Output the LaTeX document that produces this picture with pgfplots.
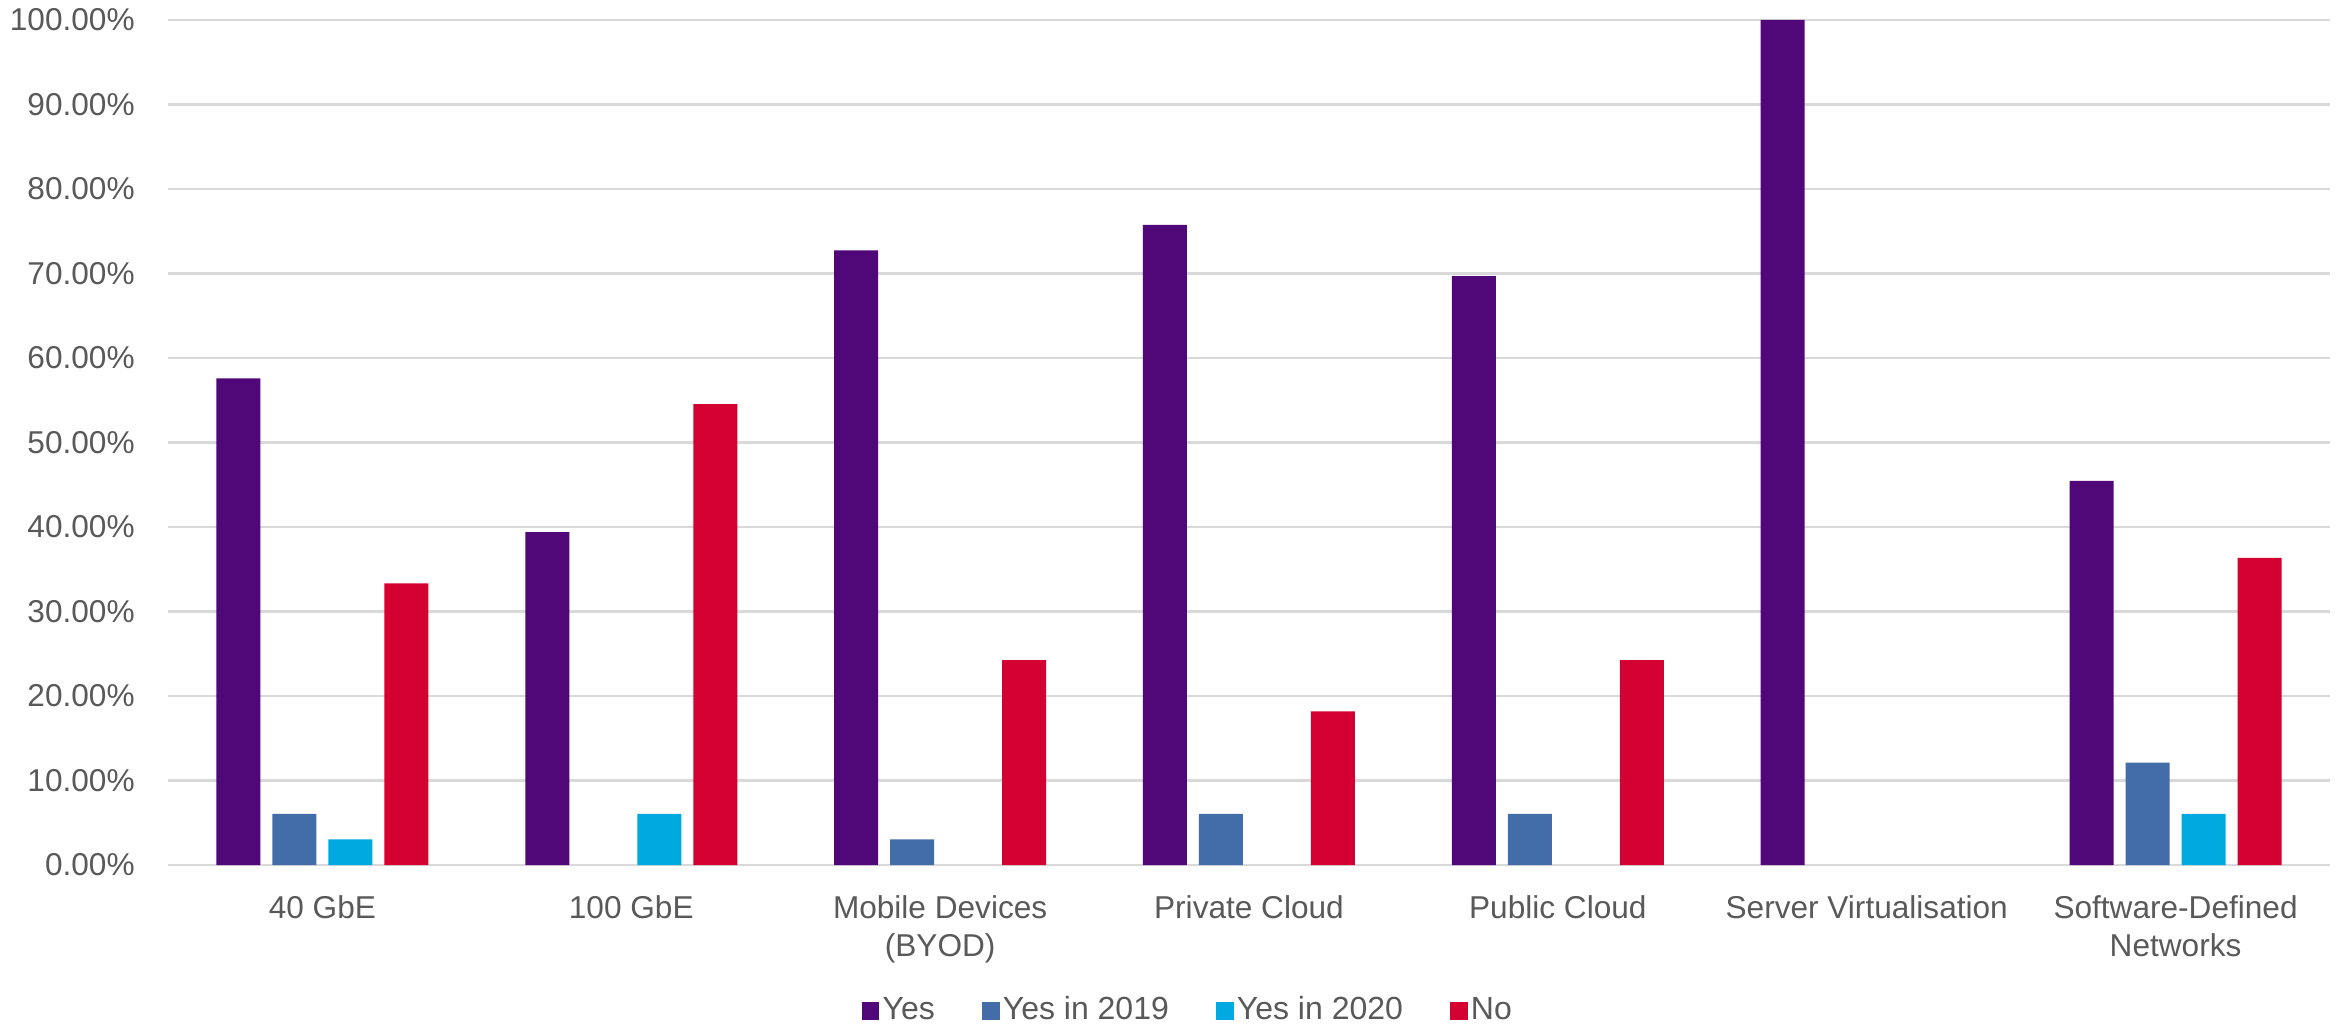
\documentclass[border=0pt]{standalone}
\usepackage{pgfplots}
\pgfplotsset{compat=1.18}
\usepackage{fontspec}
\setmainfont{Liberation Sans}

\definecolor{cYes}{HTML}{500778}
\definecolor{cY19}{HTML}{426DA9}
\definecolor{cY20}{HTML}{00A9E0}
\definecolor{cNo}{HTML}{D50032}
\definecolor{txt}{HTML}{595959}
\definecolor{grd}{HTML}{D9D9D9}

\begin{document}
\begin{tikzpicture}
\begin{axis}[
    scale only axis,
    width=540.5pt, height=211.25pt,
    ybar=3pt, bar width=11pt,
    xmin=-0.5, xmax=6.5,
    ymin=0, ymax=100,
    xtick={0,1,2,3,4,5,6},
    xticklabels={40 GbE, 100 GbE, Mobile Devices\\(BYOD), Private Cloud, Public Cloud, Server Virtualisation, Software-Defined\\Networks},
    ytick={0,10,20,30,40,50,60,70,80,90,100},
    yticklabels={0.00\%,10.00\%,20.00\%,30.00\%,40.00\%,50.00\%,60.00\%,70.00\%,80.00\%,90.00\%,100.00\%},
    major tick length=0pt,
    axis line style={draw=none},
    ymajorgrids, grid style={grd, line width=0.6pt},
    tick label style={font=\fontsize{7.9}{9.5}\selectfont, text=txt},
    xticklabel style={align=center, yshift=-4pt},
    yticklabel style={xshift=-4.8pt},
    clip=false,
    legend style={at={(0.472,-0.173)}, anchor=center, legend columns=4, draw=none,
        font=\fontsize{8}{9.6}\selectfont, text=txt, inner sep=0pt,
        /tikz/every even column/.append style={column sep=11pt},
        nodes={inner sep=0.8pt}},
    legend image code/.code={\path[#1,draw=none] (0pt,-2.2pt) rectangle (4.4pt,2.2pt);},
    every axis plot/.append style={draw=none},
]
% zero values are left out, as in the source chart
\addplot[fill=cYes] coordinates {(0,57.58) (1,39.39) (2,72.73) (3,75.76) (4,69.70) (5,100) (6,45.45)};
\addplot[fill=cY19] coordinates {(0,6.06) (2,3.03) (3,6.06) (4,6.06) (6,12.12)};
\addplot[fill=cY20] coordinates {(0,3.03) (1,6.06) (6,6.06)};
\addplot[fill=cNo] coordinates {(0,33.33) (1,54.55) (2,24.24) (3,18.18) (4,24.24) (6,36.36)};
\legend{Yes, Yes in 2019, Yes in 2020, No}
\coordinate (bbA) at (rel axis cs:-0.0777,-0.1929);
\coordinate (bbB) at (rel axis cs:1.00555,1.02367);
\end{axis}
\pgfresetboundingbox
\path[use as bounding box] (bbA) rectangle (bbB);
\end{tikzpicture}
\end{document}
